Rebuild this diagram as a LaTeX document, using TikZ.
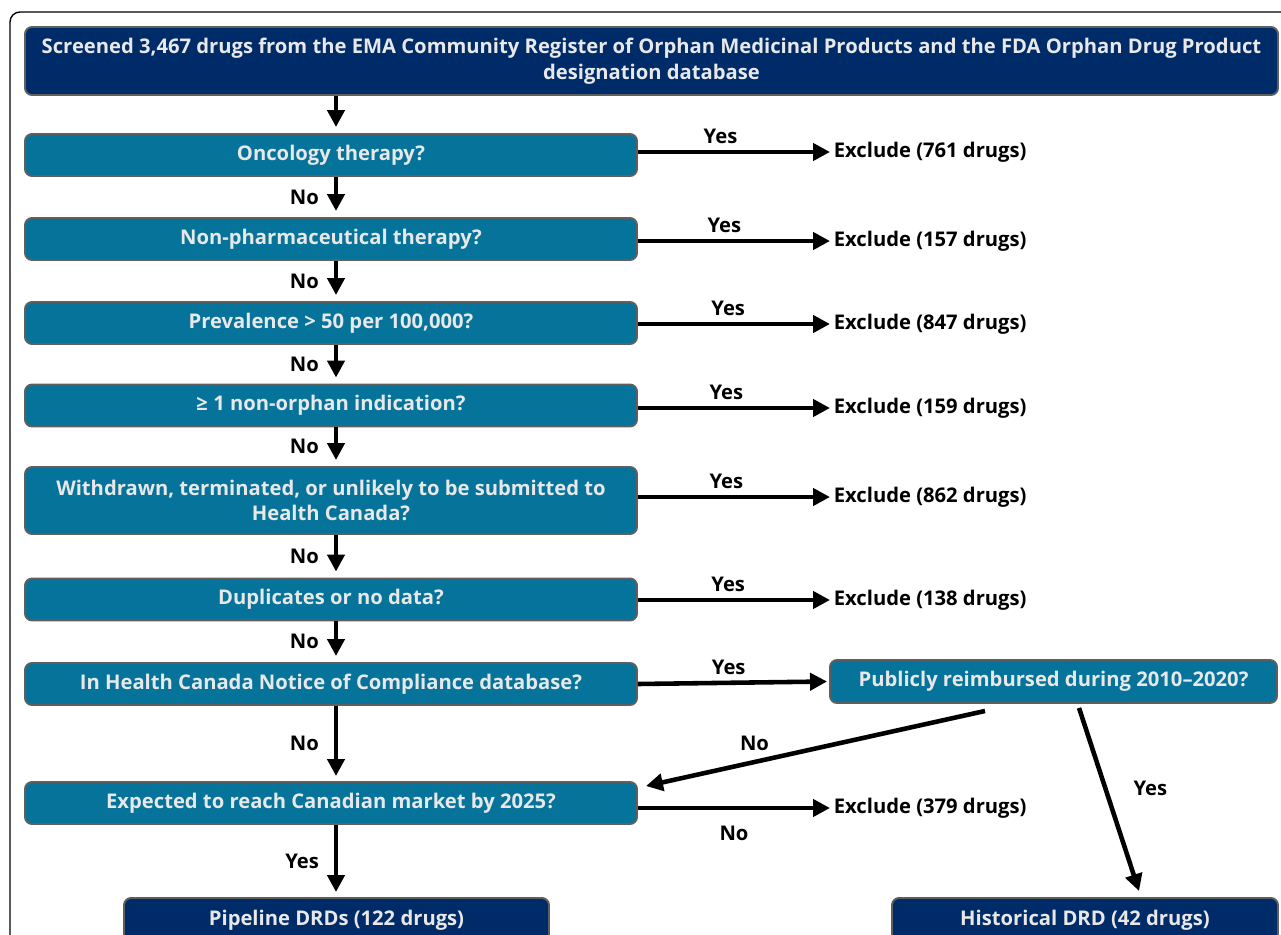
\documentclass[tikz,border=0pt]{standalone}
\usepackage{fontspec}
\setmainfont{Open Sans}
\usepackage{tikz}
\usetikzlibrary{arrows.meta, positioning, calc}
\usepackage{xcolor}
\definecolor{navyblue}{HTML}{002B69}
\definecolor{tealblue}{HTML}{05739A}
\definecolor{boxline}{HTML}{5F5F5F}
\definecolor{boxtext}{HTML}{E8E8E8}
\tikzset{
  question/.style={
    rectangle, rounded corners=4pt, draw=boxline, line width=1.1pt,
    fill=tealblue, text=boxtext,
    minimum width=12.24cm, minimum height=0.84cm,
    align=center, font=\fontsize{11.5}{14.5}\selectfont\bfseries
  },
  result/.style={
    question, fill=navyblue
  },
  arrow/.style={-{Triangle[length=0.34cm,width=0.34cm]}, line width=2.6pt, draw=black},
  label/.style={font=\fontsize{11.5}{14}\selectfont\bfseries, text=black},
  exclude/.style={anchor=west, inner sep=2pt, font=\fontsize{11.5}{14}\selectfont\bfseries}
}

\begin{document}
\begin{tikzpicture}
\useasboundingbox (0,0) rectangle (25.62,-18.7);
\clip (0,0) rectangle (25.62,-18.7);

% Outer frame
\draw[line width=0.8pt, rounded corners=0.2cm] (0.2,-0.24) rectangle (26.2,-19.5);

% Source
\node[result, minimum width=25.06cm, minimum height=1.36cm] (screen) at (13.03,-1.22)
  {Screened 3,467 drugs from the EMA Community Register of Orphan Medicinal Products and the FDA Orphan Drug Product\\designation database};

% Screening questions
\node[question] (oncology) at (6.62,-3.10) {Oncology therapy?};
\node[question] (nonpharm) at (6.62,-4.78) {Non-pharmaceutical therapy?};
\node[question] (prevalence) at (6.62,-6.46) {Prevalence > 50 per 100,000?};
\node[question] (nonorphan) at (6.62,-8.11) {≥ 1 non-orphan indication?};
\node[question, minimum height=1.34cm] (withdrawn) at (6.62,-10.01)
  {Withdrawn, terminated, or unlikely to be submitted to\\Health Canada?};
\node[question] (duplicates) at (6.62,-11.99) {Duplicates or no data?};
\node[question] (noc) at (6.62,-13.68) {In Health Canada Notice of Compliance database?};
\node[question] (market) at (6.62,-16.06) {Expected to reach Canadian market by 2025?};
\node[question, minimum width=8.94cm, minimum height=0.86cm] (reimbursed) at (21.07,-13.63)
  {Publicly reimbursed during 2010–2020?};

% Outcomes
\node[result, minimum width=8.5cm, minimum height=0.9cm] (pipeline) at (6.73,-18.41) {Pipeline DRDs (122 drugs)};
\node[result, minimum width=7.72cm, minimum height=0.9cm] (historical) at (21.70,-18.41) {Historical DRD (42 drugs)};

% Exclusions
\node[exclude] (ex1) at (16.6,-3.04) {Exclude (761 drugs)};
\node[exclude] (ex2) at (16.6,-4.82) {Exclude (157 drugs)};
\node[exclude] (ex3) at (16.6,-6.48) {Exclude (847 drugs)};
\node[exclude] (ex4) at (16.6,-8.16) {Exclude (159 drugs)};
\node[exclude] (ex5) at (16.6,-9.94) {Exclude (862 drugs)};
\node[exclude] (ex6) at (16.6,-12.00) {Exclude (138 drugs)};
\node[exclude] (ex7) at (16.6,-16.16) {Exclude (379 drugs)};

% Arrows down
\coordinate (spine) at (6.72,0);
\draw[arrow, shorten >=0.12cm] (screen.south -| spine) -- (oncology.north -| spine);
\draw[arrow, shorten >=0.12cm] (oncology.south -| spine) -- node[left=0.18cm, label]{No} (nonpharm.north -| spine);
\draw[arrow, shorten >=0.12cm] (nonpharm.south -| spine) -- node[left=0.18cm, label]{No} (prevalence.north -| spine);
\draw[arrow, shorten >=0.12cm] (prevalence.south -| spine) -- node[left=0.18cm, label]{No} (nonorphan.north -| spine);
\draw[arrow, shorten >=0.12cm] (nonorphan.south -| spine) -- node[left=0.18cm, label]{No} (withdrawn.north -| spine);
\draw[arrow, shorten >=0.12cm] (withdrawn.south -| spine) -- node[left=0.18cm, label]{No} (duplicates.north -| spine);
\draw[arrow, shorten >=0.12cm] (duplicates.south -| spine) -- node[left=0.18cm, label]{No} (noc.north -| spine);
\draw[arrow, shorten >=0.1cm] (noc.south -| spine) -- node[left=0.18cm, label]{No} (market.north -| spine);
\draw[arrow, shorten >=0.1cm] (market.south -| spine) -- node[left=0.18cm, label]{Yes} (pipeline.north -| spine);

% Arrows to exclusions
\draw[arrow] (oncology.east |- ex1.west) -- node[pos=0.43, above, label]{Yes} (ex1.west);
\draw[arrow] (nonpharm.east |- ex2.west) -- node[pos=0.45, above, label]{Yes} (ex2.west);
\draw[arrow] (prevalence.east |- ex3.west) -- node[pos=0.47, above, label]{Yes} (ex3.west);
\draw[arrow] (nonorphan.east |- ex4.west) -- node[pos=0.46, above, label]{Yes} (ex4.west);
\draw[arrow] (withdrawn.east |- ex5.west) -- node[pos=0.46, above, label]{Yes} (ex5.west);
\draw[arrow] (duplicates.east |- ex6.west) -- node[pos=0.47, above, label]{Yes} (ex6.west);
\draw[arrow] (market.east |- ex7.west) -- node[below=0.2cm, label]{No} (ex7.west);

% Reimbursement branch
\draw[arrow] (noc.east) -- node[pos=0.48, above, label]{Yes} ([xshift=-0.04cm]reimbursed.west);
\draw[arrow] ([xshift=3.12cm,yshift=-0.14cm]reimbursed.south west)
  -- node[pos=0.68, above=2pt, label]{No} ([xshift=0.16cm,yshift=-0.1cm]market.north east);
\draw[arrow] ([xshift=5.0cm,yshift=-0.08cm]reimbursed.south west)
  -- node[pos=0.44, right=0.4cm, label]{Yes} ([xshift=4.96cm,yshift=0.12cm]historical.north west);

\end{tikzpicture}
\end{document}
